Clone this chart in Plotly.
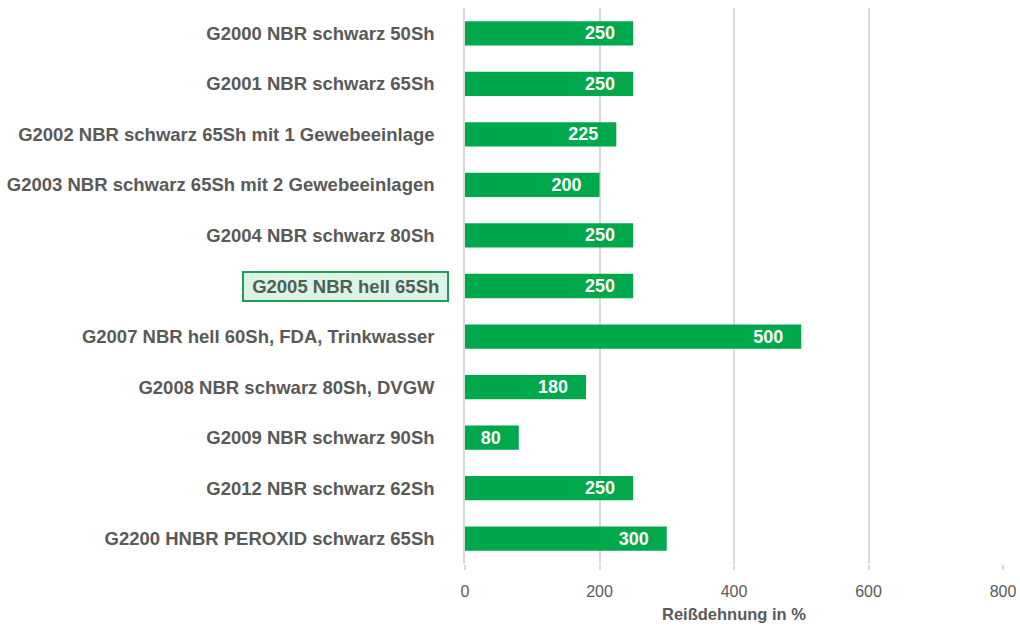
import plotly.graph_objects as go

categories = [
    "G2000 NBR schwarz 50Sh",
    "G2001 NBR schwarz 65Sh",
    "G2002 NBR schwarz 65Sh mit 1 Gewebeeinlage",
    "G2003 NBR schwarz 65Sh mit 2 Gewebeeinlagen",
    "G2004 NBR schwarz 80Sh",
    "G2005 NBR hell 65Sh",
    "G2007 NBR hell 60Sh, FDA, Trinkwasser",
    "G2008 NBR schwarz 80Sh, DVGW",
    "G2009 NBR schwarz 90Sh",
    "G2012 NBR schwarz 62Sh",
    "G2200 HNBR PEROXID schwarz 65Sh",
]
values = [250, 250, 225, 200, 250, 250, 500, 180, 80, 250, 300]
highlight = "G2005 NBR hell 65Sh"
x_ticks = [0, 200, 400, 600, 800]
x_title = "Reißdehnung in %"

FONT = "Liberation Sans, Arial, sans-serif"
NB = "\u00a0"
tick_text = ["" if c == highlight else "<b>" + c + "</b>" for c in categories]

fig = go.Figure()
fig.add_trace(go.Bar(
    y=categories,
    x=values,
    orientation="h",
    width=0.48,
    marker=dict(color="#00a84c", line=dict(width=0)),
    text=[str(v) + NB * 3 for v in values],
    textposition="inside",
    insidetextanchor="end",
    constraintext="none",
    textangle=0,
    textfont=dict(family=FONT, size=18, color="white", weight="bold"),
    cliponaxis=False,
    hoverinfo="skip",
))

fig.add_annotation(
    x=0, xref="paper", xanchor="right", xshift=-16,
    y=highlight, yref="y", yanchor="middle",
    text=NB + "<b>" + highlight + "</b>" + NB,
    showarrow=False,
    font=dict(family=FONT, size=18.5, color="#4f5f56"),
    bgcolor="#dcf3e5",
    bordercolor="#1e9e55",
    borderwidth=2,
    borderpad=3,
)

fig.update_layout(
    width=1020, height=626,
    margin=dict(l=465, r=17, t=8, b=62),
    paper_bgcolor="white",
    plot_bgcolor="white",
    showlegend=False,
    font=dict(family=FONT, size=16, color="#595959"),
    xaxis=dict(
        range=[0, 800],
        tickvals=x_ticks,
        automargin=False,
        showgrid=True,
        gridcolor="#d9d9d9",
        gridwidth=1.5,
        zeroline=False,
        showline=False,
        ticks="outside",
        ticklen=5,
        tickcolor="#d9d9d9",
        tickwidth=1.5,
        ticklabelstandoff=8,
        tickfont=dict(family=FONT, size=16, color="#595959"),
        title=dict(text="<b>" + x_title + "</b>", font=dict(family=FONT, size=16.5, color="#595959"), standoff=9),
    ),
    yaxis=dict(
        categoryorder="array",
        categoryarray=categories,
        tickmode="array",
        tickvals=categories,
        ticktext=tick_text,
        autorange="reversed",
        automargin=False,
        showgrid=False,
        showline=True,
        linecolor="#d9d9d9",
        linewidth=1.5,
        zeroline=False,
        ticks="",
        ticklabelstandoff=25,
        tickfont=dict(family=FONT, size=18.5, color="#595959"),
    ),
)

fig.write_html(
    "out.html",
    config={"displayModeBar": False},
    post_script="document.body.style.margin='0px';document.body.style.overflow='hidden';",
)
